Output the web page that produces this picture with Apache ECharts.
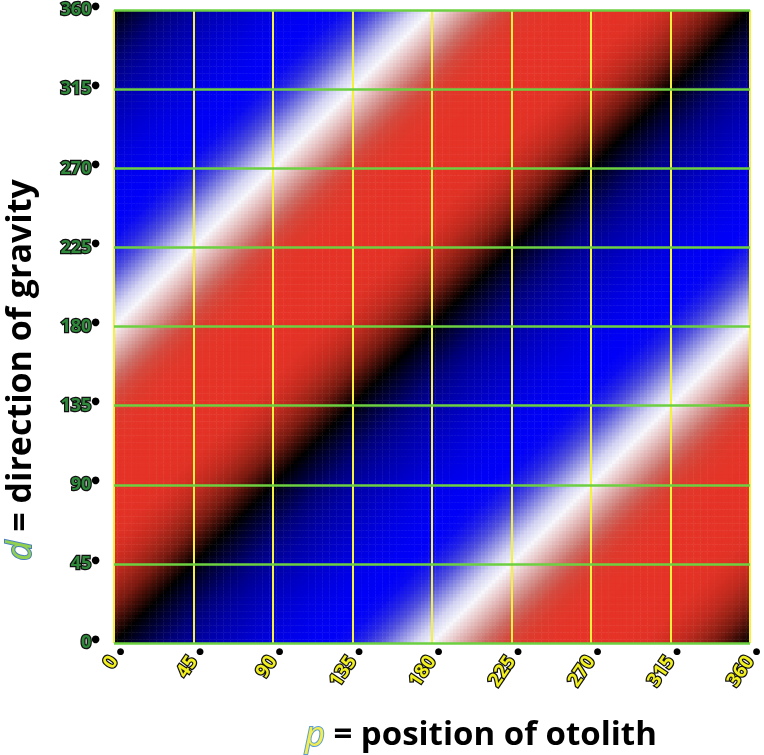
<!DOCTYPE html>
<html>
<head>
<meta charset="utf-8">
<script src="https://cdn.jsdelivr.net/npm/echarts@6/dist/echarts.min.js"></script>
<style>
  html, body { margin: 0; padding: 0; background: #fff; }
  #chart { width: 764px; height: 755px; }
</style>
</head>
<body>
<div id="chart"></div>
<script>
// tick marks on both axes, degrees
const tickDegrees = [0, 45, 90, 135, 180, 225, 270, 315, 360];

// size of one cell of the colour field, degrees
const cellStep = 2;

// offset p - d (mod 360) at which each colour was read along the bottom edge
const offsetSamples = [
  0, 10, 20, 30, 40, 50, 60, 70, 80, 90,
  100, 110, 120, 130, 140, 150, 160, 170, 180, 190,
  200, 210, 220, 230, 240, 250, 260, 270, 280, 290,
  300, 310, 320, 330, 340, 350, 360
];
const offsetColors = [
  '#000000', '#00002a', '#000052', '#000078', '#000092', '#0000a8', '#0000b8', '#0000c8', '#0000d6', '#0000e2',
  '#0000ec', '#0000f4', '#0000f8', '#0a0af2', '#2626e6', '#5252de', '#9292e4', '#d2d2f2', '#f6f6fb', '#e8c8c8',
  '#d69894', '#cc6a62', '#d44a3e', '#dc3c2e', '#e2372a', '#e53428', '#e53327', '#e53327', '#e53327', '#e43226',
  '#e03226', '#d42e22', '#c02a1e', '#a02418', '#781a10', '#3c0c06', '#000000'
];

// cell centres (both axes use the same ones)
const cellCenters = [];
for (let v = cellStep / 2; v < 360; v += cellStep) cellCenters.push(v);

// the field only depends on p - d, so every cell takes its offset
const fieldData = [];
cellCenters.forEach((p, i) => {
  cellCenters.forEach((d, j) => {
    fieldData.push([i, j, ((p - d) % 360 + 360) % 360]);
  });
});

const labelFont = 'Open Sans';
const titleFont = 'Open Sans';

// value axis spanning the ticks, nothing drawn but what is passed in
function degreeAxis(extra) {
  return Object.assign({
    type: 'value',
    min: tickDegrees[0],
    max: tickDegrees[tickDegrees.length - 1],
    interval: 45,
    axisLine: { show: false },
    axisTick: { show: false },
    splitLine: { show: false },
  }, extra);
}

// black raised dot used as the degree sign
const degreeRich = {
  s: { color: '#000', fontFamily: 'DejaVu Sans', fontSize: 10, verticalAlign: 'top', textBorderWidth: 0 },
};

const chart = echarts.init(document.getElementById('chart'));

chart.setOption({
  animation: false,
  grid: { left: 114, top: 7, width: 636, height: 636 },
  visualMap: {
    show: false,
    type: 'continuous',
    dimension: 2,
    min: offsetSamples[0],
    max: offsetSamples[offsetSamples.length - 1],
    inRange: { color: offsetColors },
  },
  xAxis: [
    { type: 'category', data: cellCenters, show: false },
    degreeAxis({
      position: 'bottom',
      z: 5,
      splitLine: { show: true, lineStyle: { color: '#f4f23c', width: 2 } },
      axisLabel: {
        rotate: 56,
        margin: 15,
        fontFamily: labelFont,
        fontWeight: 'bold',
        fontSize: 19,
        color: '#f2f01e',
        textBorderColor: '#111',
        textBorderWidth: 2.5,
      },
    }),
    degreeAxis({
      position: 'bottom',
      z: 7,
      axisLabel: {
        margin: 4,
        align: 'left',
        fontFamily: 'DejaVu Sans',
        fontSize: 9,
        color: '#000',
        formatter: () => ' \u25CF',
      },
    }),
  ],
  yAxis: [
    { type: 'category', data: cellCenters, show: false },
    degreeAxis({
      position: 'left',
      z: 6,
      splitLine: { show: true, lineStyle: { color: '#6cd040', width: 2.5 } },
      axisLabel: {
        margin: 14,
        fontFamily: labelFont,
        fontWeight: 'bold',
        fontSize: 18,
        color: '#2e8a3a',
        textBorderColor: '#111',
        textBorderWidth: 2.5,
        formatter: '{value}{s|\u25CF}',
        rich: degreeRich,
      },
    }),
  ],
  series: [
    {
      type: 'heatmap',
      xAxisIndex: 0,
      yAxisIndex: 0,
      data: fieldData,
      progressive: 0,
      itemStyle: { borderWidth: 0 },
      emphasis: { disabled: true },
    },
  ],
  graphic: [
    {
      type: 'text',
      x: 481,
      y: 736,
      style: {
        text: '{v|p} = position of otolith',
        font: 'bold 33px "Open Sans"',
        fill: '#000',
        align: 'center',
        verticalAlign: 'middle',
        rich: {
          v: {
            fontStyle: 'italic',
            fontWeight: 'normal',
            fontSize: 34,
            fontFamily: titleFont,
            fill: '#f2ee50',
            stroke: '#5b9bd5',
            lineWidth: 2,
          },
        },
      },
    },
    {
      type: 'text',
      x: 21,
      y: 370,
      rotation: Math.PI / 2,
      style: {
        text: '{v|d} = direction of gravity',
        font: 'bold 34px "Open Sans"',
        fill: '#000',
        align: 'center',
        verticalAlign: 'middle',
        rich: {
          v: {
            fontStyle: 'italic',
            fontWeight: 'normal',
            fontSize: 35,
            fontFamily: titleFont,
            fill: '#92d050',
            stroke: '#4a7fc1',
            lineWidth: 2,
          },
        },
      },
    },
  ],
});
</script>
</body>
</html>
